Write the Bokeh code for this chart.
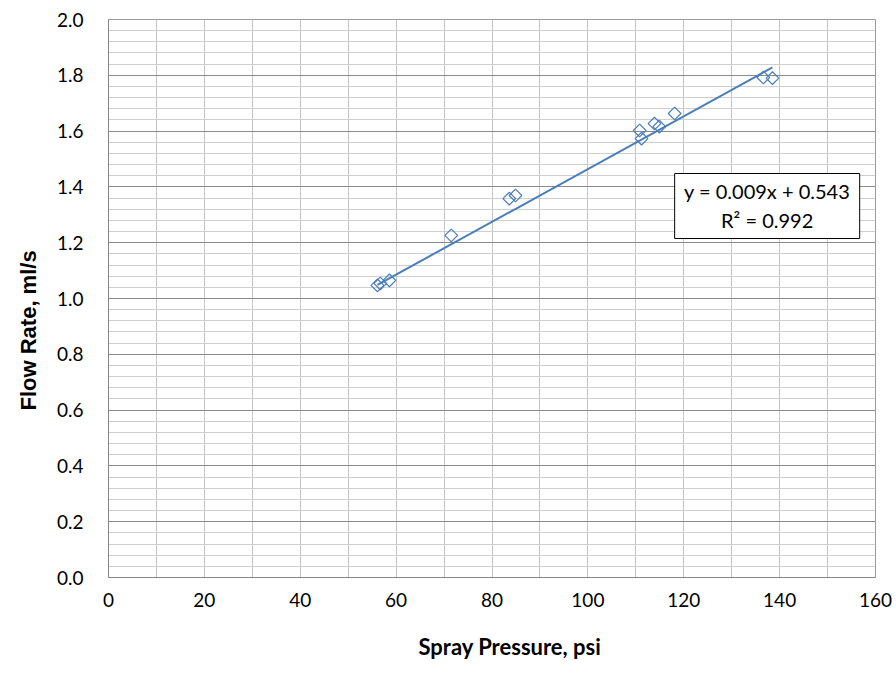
import numpy as np
from bokeh.plotting import figure
from bokeh.models import SingleIntervalTicker, Label, BoxAnnotation, FixedTicker, PrintfTickFormatter, Title
from bokeh.embed import file_html
from bokeh.resources import INLINE

# Data
pressure = [56.1, 56.7, 58.6, 71.5, 83.6, 84.9, 110.8, 111.2, 113.9, 114.9, 118.1, 136.6, 138.5]
flow = [1.047, 1.054, 1.065, 1.226, 1.358, 1.369, 1.602, 1.573, 1.627, 1.616, 1.663, 1.792, 1.790]

# Trend line as drawn in the reference
trend_slope = 0.00946
trend_intercept = 0.518
eq_text = "y = 0.009x + 0.543"
r2_text = "R² = 0.992"

x_ticks = [0, 20, 40, 60, 80, 100, 120, 140, 160]
y_ticks = [0.0, 0.2, 0.4, 0.6, 0.8, 1.0, 1.2, 1.4, 1.6, 1.8, 2.0]
x_title = "Spray Pressure, psi"
y_title = "Flow Rate, ml/s"

BLUE = "#4a7ebb"
FONT = "Lato"

p = figure(width=896, height=674, x_range=(0, 160), y_range=(0, 2.0),
           output_backend="svg", toolbar_location=None,
           min_border_left=107, min_border_right=22, min_border_top=19, min_border_bottom=97)
p.frame_width = 767
p.frame_height = 558

p.background_fill_color = "white"
p.border_fill_color = "white"
p.outline_line_color = "#9a9a9a"

# Grids
p.xgrid.ticker = SingleIntervalTicker(interval=20, num_minor_ticks=2)
p.ygrid.ticker = SingleIntervalTicker(interval=0.2, num_minor_ticks=5)
p.xgrid.grid_line_color = "#c4c4c4"
p.xgrid.minor_grid_line_color = "#c4c4c4"
p.ygrid.grid_line_color = "#8a8a8a"
p.ygrid.minor_grid_line_color = "#cfcfcf"

# Axes
p.xaxis.ticker = FixedTicker(ticks=x_ticks)
p.yaxis.ticker = FixedTicker(ticks=y_ticks)
p.yaxis.formatter = PrintfTickFormatter(format="%.1f")
for ax in (p.xaxis, p.yaxis):
    ax.axis_line_color = "#868686"
    ax.major_tick_line_color = None
    ax.minor_tick_line_color = None
    ax.major_label_text_font = FONT
    ax.major_label_text_font_size = "19px"
    ax.major_label_text_color = "#000000"
p.xaxis.major_label_standoff = 9
p.yaxis.major_label_standoff = 19

# Axis titles (placed relative to the whole chart, as in the reference)
p.add_layout(Title(text=x_title, align="left", offset=310, standoff=42,
                   text_font=FONT, text_font_size="22px", text_font_style="bold",
                   text_color="#000000"), "below")
p.add_layout(Title(text=y_title, align="left", offset=167, standoff=26,
                   text_font="Liberation Sans", text_font_size="22px", text_font_style="bold",
                   text_color="#000000"), "left")

# Trend line
x0, x1 = min(pressure), max(pressure)
p.line([x0, x1], [trend_intercept + trend_slope * x0, trend_intercept + trend_slope * x1],
       line_color=BLUE, line_width=2)

# Points: hollow diamonds
p.scatter(pressure, flow, marker="square", size=9, angle=np.pi / 4,
          fill_color=None, line_color=BLUE, line_width=1.2)

# Equation box
box = BoxAnnotation(left=118.1, right=156.7, top=1.448, bottom=1.215,
                    fill_color="white", fill_alpha=1.0, line_color="#000000",
                    line_alpha=1.0, line_width=1)
p.add_layout(box)
p.add_layout(Label(x=137.4, y=1.385, text=eq_text, text_align="center", text_baseline="middle",
                   text_font=FONT, text_font_size="20px", text_color="#000000"))
p.add_layout(Label(x=137.4, y=1.28, text=r2_text, text_align="center", text_baseline="middle",
                   text_font=FONT, text_font_size="20px", text_color="#000000"))

open("out.html", "w").write(file_html(p, INLINE))
